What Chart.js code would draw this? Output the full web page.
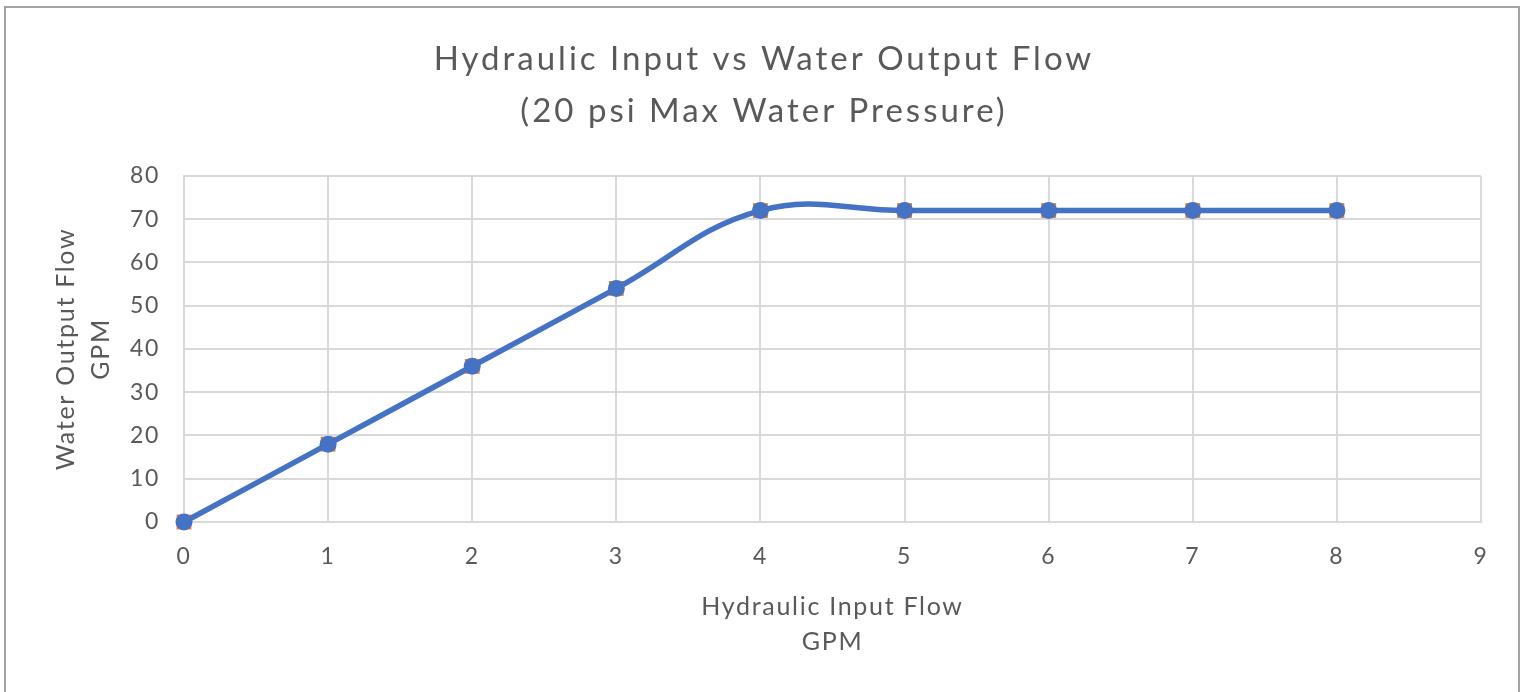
<!DOCTYPE html>
<html>
<head>
<meta charset="utf-8">
<script src="https://cdn.jsdelivr.net/npm/chart.js@4"></script>
<style>
  html, body { margin: 0; padding: 0; background: #fff; }
  #wrap { position: relative; width: 1528px; height: 692px; overflow: hidden; }
  #frame { position: absolute; left: 4px; top: 6px; width: 1516px; height: 720px;
           border: 2px solid #a3a3a3; box-sizing: border-box; pointer-events: none; }
  canvas { position: absolute; left: 0; top: 0; }
</style>
</head>
<body>
<div id="wrap">
  <canvas id="flowChart" width="1528" height="692"></canvas>
  <div id="frame"></div>
</div>
<script>
// values
const hydraulicInput = [0, 1, 2, 3, 4, 5, 6, 7, 8];
const waterOutput = [0, 18, 36, 54, 72, 72, 72, 72, 72];
const waterOutputRaw = [0, 18, 36, 54, 72, 72, 72, 72, 72];

const chartTitle = ["Hydraulic Input vs Water Output Flow", "(20 psi Max Water Pressure)"];
const xTitle = ["Hydraulic Input Flow", "GPM"];
const yTitle = ["Water Output Flow", "GPM"];

const textColor = "#595959";
const gridColor = "#d9d9d9";
const fontFamily = "Lato, 'Open Sans', sans-serif";

function toPoints(xs, ys) {
    return xs.map((x, i) => ({ x: x, y: ys[i] }));
}

// the reference text is loosely tracked (Calibri look), so widen the letters a bit
const spacingPlugin = {
    id: "spacing",
    beforeDraw(chart) {
        const tb = chart.titleBlock;
        if (tb && !tb._spaced) {
            const orig = tb.draw;
            tb.draw = function () {
                const c = this.ctx;
                const prev = c.letterSpacing;
                c.letterSpacing = "3px";
                orig.apply(this, arguments);
                c.letterSpacing = prev;
            };
            tb._spaced = true;
        }
        chart.ctx.letterSpacing = "1.7px";
    },
    afterDraw(chart) {
        chart.ctx.letterSpacing = "0px";
    },
};

const canvas = document.getElementById("flowChart");
const flowChart = new Chart(canvas.getContext("2d"), {
    type: "scatter",
    data: {
        datasets: [
            {
                label: "Water Output",
                data: toPoints(hydraulicInput, waterOutput),
                showLine: true,
                tension: 0.4,
                borderColor: "#4472c4",
                backgroundColor: "#4472c4",
                borderWidth: 5.5,
                pointStyle: "circle",
                pointRadius: 8.5,
                pointBorderWidth: 0,
                clip: false,
                order: 0,
            },
            {
                label: "Water Output (raw)",
                data: toPoints(hydraulicInput, waterOutputRaw),
                showLine: false,
                borderColor: "#ed7d31",
                backgroundColor: "#ed7d31",
                pointStyle: "rect",
                pointRadius: 10.5,
                pointBorderWidth: 0,
                clip: false,
                order: 1,
            },
        ],
    },
    plugins: [spacingPlugin],
    options: {
        responsive: false,
        animation: false,
        layout: { padding: 0 },
        plugins: {
            legend: { display: false },
            tooltip: { enabled: false },
            title: {
                display: true,
                text: chartTitle,
                color: textColor,
                font: { family: fontFamily, size: 33, weight: "normal", lineHeight: 1.56 },
                padding: { top: 34, bottom: 39 },
            },
        },
        scales: {
            x: {
                type: "linear",
                min: 0,
                max: 9,
                ticks: {
                    stepSize: 1,
                    color: textColor,
                    padding: 21,
                    font: { family: fontFamily, size: 23 },
                },
                grid: { color: gridColor, lineWidth: 2, drawTicks: false },
                border: { color: gridColor, width: 2 },
                title: {
                    display: true,
                    text: xTitle,
                    color: textColor,
                    font: { family: fontFamily, size: 25, lineHeight: 1.4 },
                    padding: { top: 0, bottom: 33 },
                },
                afterFit: function (scale) { scale.height = 170; },
            },
            y: {
                type: "linear",
                min: 0,
                max: 80,
                ticks: {
                    stepSize: 10,
                    color: textColor,
                    padding: 24,
                    font: { family: fontFamily, size: 23 },
                },
                grid: { color: gridColor, lineWidth: 2, drawTicks: false },
                border: { color: gridColor, width: 2 },
                title: {
                    display: true,
                    text: yTitle,
                    color: textColor,
                    font: { family: fontFamily, size: 25, lineHeight: 1.4 },
                    padding: { top: 48, bottom: 0 },
                },
                afterFit: function (scale) { scale.width = 184; },
            },
            // empty right-hand strip so the plot ends where the reference does
            yRight: {
                type: "linear",
                position: "right",
                display: true,
                min: 0,
                max: 80,
                ticks: { display: false },
                grid: { display: false },
                border: { display: false },
                afterFit: function (scale) { scale.width = 47; },
            },
        },
    },
});
</script>
</body>
</html>
